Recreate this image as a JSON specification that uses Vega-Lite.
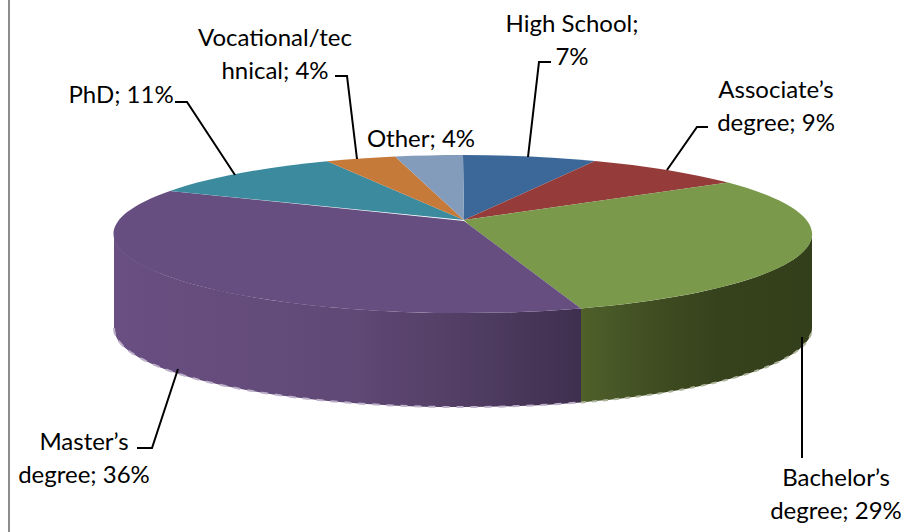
{
"$schema":"https://vega.github.io/schema/vega-lite/v6.json",
"width":920,"height":532,"padding":0,
"autosize":{"type":"fit","contains":"padding"},
"background":"white",
"config":{"view":{"stroke":null}},
"data":{"values":[
{"rank":1,"category":"High School","share":7,"label":"High School;\n7%"},
{"rank":2,"category":"Associate's degree","share":9,"label":"Associate’s\ndegree; 9%"},
{"rank":3,"category":"Bachelor's degree","share":29,"label":"Bachelor’s\ndegree; 29%"},
{"rank":4,"category":"Master's degree","share":36,"label":"Master’s\ndegree; 36%"},
{"rank":5,"category":"PhD","share":11,"label":"PhD; 11%"},
{"rank":6,"category":"Vocational/technical","share":4,"label":"Vocational/tec\nhnical; 4%"},
{"rank":7,"category":"Other","share":4,"label":"Other; 4%"}
]},
"resolve":{"scale":{"shape":"independent","color":"independent"}},
"layer":[
{"transform":[{"filter":"datum.rank==4"}],
 "mark":{"type":"point","filled":true,"opacity":1,"size":4,"shape":"M-346 -32 A349 79 0 0 0 121 42.4 L121 136.4 A349 79 0 0 1 -346 62 Z",
 "color":{"gradient":"linear","x1":0,"y1":0,"x2":1,"y2":0,"stops":[{"offset":0,"color":"#694f82"},{"offset":0.5,"color":"#604976"},{"offset":0.75,"color":"#523e64"},{"offset":1,"color":"#3f2f4f"}]}},
 "encoding":{}},
{"transform":[{"filter":"datum.rank==3"}],
 "mark":{"type":"point","filled":true,"opacity":1,"size":4,"shape":"M121 42.4 A349 79 0 0 0 352 -32 L352 62 A349 79 0 0 1 121 136.4 Z",
 "color":{"gradient":"linear","x1":0,"y1":0,"x2":1,"y2":0,"stops":[{"offset":0,"color":"#4f602b"},{"offset":0.3,"color":"#404e22"},{"offset":0.6,"color":"#36421c"},{"offset":1,"color":"#333f1a"}]}},
 "encoding":{}},
{"transform":[{"filter":"datum.rank==4"}],
 "mark":{"type":"point","filled":false,"opacity":1,"size":4,"strokeWidth":2,"strokeDash":[7,7],"color":"#bdb0c9","shape":"M-346 62 A349 79 0 0 0 121 136.4"},
 "encoding":{}},
{"transform":[{"filter":"datum.rank==3"}],
 "mark":{"type":"point","filled":false,"opacity":1,"size":4,"strokeWidth":2,"strokeDash":[5,6],"color":"#aeb59c","shape":"M121 136.4 A349 79 0 0 0 352 62"},
 "encoding":{}},
{"mark":{"type":"point","filled":true,"opacity":1,"size":4},
 "encoding":{
  "shape":{"field":"category","type":"nominal","legend":null,"scale":{
   "domain":["High School","Associate's degree","Bachelor's degree","Master's degree","PhD","Vocational/technical","Other"],
   "range":[
    "M4 -46 L3 -111 A349 79 0 0 1 135 -105.1 Z",
    "M4 -46 L135 -105.1 A349 79 0 0 1 268 -83.4 Z",
    "M4 -46 L268 -83.4 A349 79 0 0 1 121 42.4 L8 -42 Z",
    "M4 -45 L121 42.4 A349 79 0 0 1 -290 -75 Z",
    "M4 -46 L-290 -75 A349 79 0 0 1 -133 -104.8 Z",
    "M4 -46 L-133 -104.8 A349 79 0 0 1 -65 -109.5 Z",
    "M4 -46 L-65 -109.5 A349 79 0 0 1 3 -111 Z"]}},
  "color":{"field":"category","type":"nominal","legend":null,"scale":{
   "domain":["High School","Associate's degree","Bachelor's degree","Master's degree","PhD","Vocational/technical","Other"],
   "range":["#3b6898","#953c3a","#7a994a","#664f80","#3b8a9e","#c67a3a","#849cbc"]}}
 }},
{"mark":{"type":"point","filled":false,"opacity":1,"size":4,"strokeWidth":2,"color":"#000000"},
 "encoding":{
  "shape":{"field":"category","type":"nominal","legend":null,"scale":{
   "domain":["High School","Associate's degree","Bachelor's degree","Master's degree","PhD","Vocational/technical","Other"],
   "range":[
    "M91 -204 L79 -204 L68 -109",
    "M248 -139 L237 -139 L207 -96",
    "M342 71 L342 192",
    "M-323 182 L-308 182 L-282 103",
    "M-285 -164 L-273 -164 L-225 -91",
    "M-125 -190 L-113 -190 L-103 -107",
    "M-40 -130 L-40 -130"]}}
 }},
{"transform":[{"filter":"datum.rank==1"}],
 "mark":{"type":"point","filled":false,"opacity":1,"size":4,"strokeWidth":2,"color":"#8c8c8c","shape":"M-451 -266 L-451 266"},
 "encoding":{}},
{"mark":{"type":"text","font":"Lato","fontSize":24,"color":"#000000","align":"center","baseline":"alphabetic","lineBreak":"\n","lineHeight":33},
 "encoding":{
  "text":{"field":"label","type":"nominal"},
  "x":{"field":"rank","type":"quantitative","axis":null,"scale":{"domain":[1,2,3,4,5,6,7],"range":[572,776,836,84,121,275,421]}},
  "y":{"field":"rank","type":"quantitative","axis":null,"scale":{"domain":[1,2,3,4,5,6,7],"range":[28,94,482,446,99,42,143]}}
 }}
]
}
